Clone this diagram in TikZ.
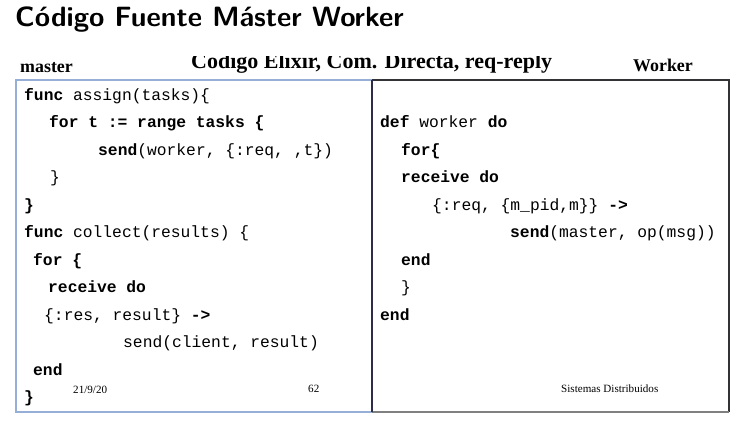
\documentclass[tikz,border=0pt]{standalone}
\usepackage{fontspec}
\newfontfamily\codefont{Liberation Mono}
\newfontfamily\timesfont{Liberation Serif}
\definecolor{lbox}{RGB}{150,175,215}
\definecolor{rbox}{RGB}{50,50,55}
\definecolor{rbot}{RGB}{128,128,128}
\begin{document}
\begin{tikzpicture}[x=1pt,y=-1pt,
  code/.style={font=\codefont\fontsize{16.3}{18}\selectfont, anchor=base west, inner sep=0pt, text=black},
  lbl/.style={font=\timesfont\bfseries\fontsize{17.9}{20}\selectfont, anchor=base west, inner sep=0pt},
  foot/.style={font=\timesfont\fontsize{11.1}{13}\selectfont, anchor=base west, inner sep=0pt}]
\useasboundingbox (0,0) rectangle (747,428);
% title
\node[font=\sffamily\bfseries\fontsize{27.9}{31}\selectfont, anchor=base west, inner sep=0pt] (title) at (15,27) {Código Fuente Máster Worker};
% subtitle (clipped at top)
\begin{scope}
\clip (0,57) rectangle (747,80);
\node[font=\timesfont\bfseries\fontsize{22}{24}\selectfont, anchor=base west, inner sep=0pt] (sub) at (191,69) {Código Elixir, Com. Directa, req-reply};
\end{scope}
\node[lbl] (master) at (20,73) {master};
\node[lbl] (worker) at (633,72) {Worker};
% boxes
\draw[lbox, line width=1.5pt] (372,80) -- (16,80) -- (16,412) -- (372,412);
\draw[rbox, line width=1.5pt] (372,80) -- (729,80) -- (729,412);
\draw[rbot, line width=1.5pt] (372,412) -- (729,412);
\draw[rbox!90!blue, line width=1.5pt] (372,80) -- (372,412);
% left code
\node[code] (l1) at (24,100) {\textbf{func} assign(tasks)\{};
\node[code] (l2) at (49,127.5) {\textbf{for t := range tasks \{}};
\node[code] (l3) at (98,155) {\textbf{send}(worker, \{:req, ,t\})};
\node[code] (l4) at (50,182.5) {\}};
\node[code] (l5) at (24,210) {\textbf{\}}};
\node[code] (l6) at (24,237.5) {\textbf{func} collect(results) \{};
\node[code] (l7) at (33,265) {\textbf{for \{}};
\node[code] (l8) at (48,292.5) {\textbf{receive do}};
\node[code] (l9) at (44,320) {\{:res, result\} \textbf{->}};
\node[code] (l10) at (123,347.5) {send(client, result)};
\node[code] (l11) at (33,375) {\textbf{end}};
\node[code] (l12) at (24,402.5) {\textbf{\}}};
% right code
\node[code] (r1) at (380,127.5) {\textbf{def} worker \textbf{do}};
\node[code] (r2) at (401,155) {\textbf{for\{}};
\node[code] (r3) at (401,182.5) {\textbf{receive do}};
\node[code] (r4) at (432,210) {\{:req, \{m\_pid,m\}\} \textbf{->}};
\node[code] (r5) at (510,237.5) {\textbf{send}(master, op(msg))};
\node[code] (r6) at (401,265) {\textbf{end}};
\node[code] (r7) at (401,292.5) {\}};
\node[code] (r8) at (380,320) {\textbf{end}};
% footer
\node[foot] (date) at (73,393) {21/9/20};
\node[foot] (page) at (308,392) {62};
\node[foot] (sd) at (561,392) {Sistemas Distribuidos};
\end{tikzpicture}
\end{document}
